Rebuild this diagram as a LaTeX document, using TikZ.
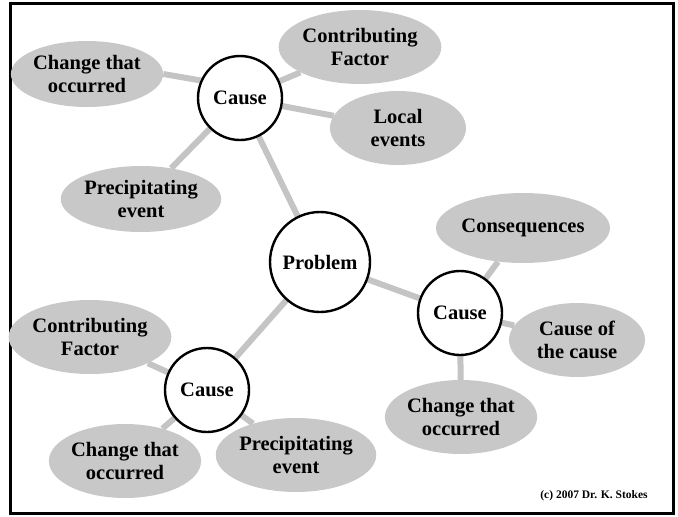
\documentclass[tikz,border=0pt]{standalone}
\usepackage{fontspec}
\setmainfont{Liberation Serif}
\usepackage{tikz}
\usetikzlibrary{shapes.geometric,backgrounds}
\definecolor{fbgray}{RGB}{200,200,200}
\definecolor{fblink}{RGB}{196,196,196}
\tikzset{
  fbcause/.style={draw=black, line width=2.4pt, circle, fill=white, align=center, minimum size=84pt, inner sep=0pt, font=\fontsize{20.5}{23}\selectfont\bfseries},
  fbprob/.style={fbcause, minimum size=100pt},
  fbleaf/.style={ellipse, fill=fbgray, align=center, minimum width=136pt, minimum height=74pt, inner sep=0pt, font=\fontsize{20.5}{23}\selectfont\bfseries},
  fbline/.style={line width=6pt, draw=fblink}
}
\begin{document}
\begin{tikzpicture}[x=1pt, y=-1pt]
  \useasboundingbox (0,0) rectangle (678,517);
  \draw[line width=3pt] (10.5,3) rectangle (673.5,513);
  % centre and causes
  \node[fbprob] (prob) at (320,262) {Problem};
  \node[fbcause] (causeA) at (240,98) {Cause};
  \node[fbcause] (causeB) at (460,313) {Cause};
  \node[fbcause] (causeC) at (207,390) {Cause};
  % leaves round the upper cause
  \node[fbleaf, minimum height=66pt] (chgA) at (87,74) {Change that\\occurred};
  \node[fbleaf] (contA) at (360,47) {Contributing\\Factor};
  \node[fbleaf] (local) at (398,128) {Local\\events};
  \node[fbleaf, minimum height=66pt] (precA) at (141,199) {Precipitating\\event};
  % leaves round the right cause
  \node[fbleaf, minimum height=70pt] (cons) at (523,228) {Consequences};
  \node[fbleaf] (coc) at (577,340) {Cause of\\the cause};
  \node[fbleaf] (chgB) at (461,417) {Change that\\occurred};
  % leaves round the lower cause
  \node[fbleaf] (contC) at (90,337) {Contributing\\Factor};
  \node[fbleaf] (chgC) at (125,461) {Change that\\occurred};
  \node[fbleaf] (precC) at (296,455) {Precipitating\\event};
  \node[font=\fontsize{11.5}{13}\selectfont\bfseries] (copy) at (594,496) {(c) 2007 Dr. K. Stokes};
  \begin{scope}[on background layer]
    \draw[fbline] (causeA.156) -- (chgA.east);
    \draw[fbline] (causeA) -- (contA);
    \draw[fbline] (causeA) -- (local);
    \draw[fbline] (causeA) -- (precA);
    \draw[fbline] (causeA) -- (prob);
    \draw[fbline] (prob) -- (causeB);
    \draw[fbline] (prob) -- (causeC);
    \draw[fbline] (causeB) -- (cons);
    \draw[fbline] (causeB) -- (coc);
    \draw[fbline] (causeB) -- (chgB);
    \draw[fbline] (causeC) -- (contC);
    \draw[fbline] (causeC) -- (chgC);
    \draw[fbline] (causeC) -- (precC);
  \end{scope}
\end{tikzpicture}
\end{document}
